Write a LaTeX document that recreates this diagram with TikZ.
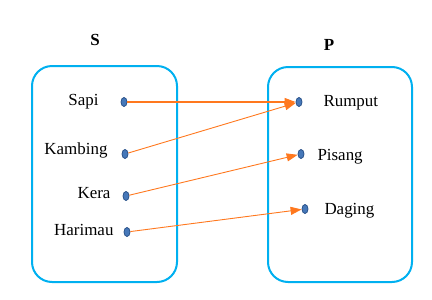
\documentclass[tikz,border=0pt]{standalone}
\usepackage{fontspec}
\setmainfont{Liberation Serif}
\usetikzlibrary{arrows.meta, shapes.geometric}
\definecolor{setblue}{RGB}{0,176,240}
\definecolor{dotfill}{RGB}{70,120,185}
\definecolor{dotline}{RGB}{45,85,140}
\definecolor{maporange}{RGB}{255,120,30}

\begin{document}
\begin{tikzpicture}[x=1bp, y=-1bp,
    every node/.style={font=\fontsize{17}{20}\selectfont},
    dot/.style={ellipse, draw=dotline, fill=dotfill, line width=0.8bp,
                minimum width=6bp, minimum height=9bp, inner sep=0pt},
    maparrow/.style={maporange, line width=0.9bp,
                -{Triangle[length=11bp, width=8bp]}}]
  \useasboundingbox (0,0) rectangle (432,300);
  % the two sets
  \draw[setblue, line width=2bp, rounded corners=20bp] (32,66) rectangle (177,282);
  \draw[setblue, line width=2bp, rounded corners=20bp] (268,67) rectangle (412,282);
  \node[font=\fontsize{17}{20}\selectfont\bfseries] (setS) at (95,40) {S};
  \node[font=\fontsize{17}{20}\selectfont\bfseries] (setP) at (329,45) {P};
  % domain S
  \node[dot] (sapi) at (124,102) {};
  \node[dot] (kambing) at (125,154) {};
  \node[dot] (kera) at (126,196) {};
  \node[dot] (harimau) at (127,232) {};
  \node[anchor=east] (tsapi) at (102,102) {Sapi};
  \node[anchor=east] (tkambing) at (111,150) {Kambing};
  \node[anchor=east] (tkera) at (114,193) {Kera};
  \node[anchor=east] (tharimau) at (117,230) {Harimau};
  % codomain P
  \node[dot] (rumput) at (299,102) {};
  \node[dot] (pisang) at (301,154) {};
  \node[dot] (daging) at (305,209) {};
  \node[anchor=west] (trumput) at (320,103) {Rumput};
  \node[anchor=west] (tpisang) at (314,157) {Pisang};
  \node[anchor=west] (tdaging) at (321,211) {Daging};
  % relation
  \draw[maparrow, line width=1.1bp] (sapi) -- (rumput);
  \draw[maparrow] (kambing) -- (rumput);
  \draw[maparrow] (kera) -- (pisang);
  \draw[maparrow] (harimau) -- (daging);
\end{tikzpicture}
\end{document}
